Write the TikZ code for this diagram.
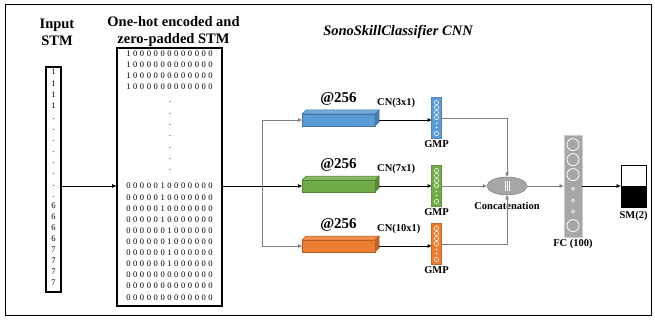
\documentclass[tikz,border=0pt]{standalone}
\usepackage{fontspec}
\setmainfont{Liberation Serif}
\usetikzlibrary{shapes.geometric, arrows.meta, positioning, calc}
\definecolor{cnblue}{HTML}{5B9BD5}
\definecolor{cngreen}{HTML}{70AD47}
\definecolor{cnorange}{HTML}{ED7D31}
\definecolor{poolgray}{HTML}{A6A6A6}
\definecolor{linegray}{HTML}{7F7F7F}
\newcommand\ohspace{\spaceskip=2.6pt\relax}

\begin{document}
\begin{tikzpicture}[x=1pt, y=-1pt,
  heading/.style={font=\fontsize{14.5}{17}\selectfont\bfseries, align=center},
  tag/.style={font=\fontsize{10.5}{12}\selectfont\bfseries, inner sep=1pt},
  digit/.style={font=\fontsize{8.5}{9}\selectfont, inner sep=0pt, text height=6pt, text depth=0pt},
  onehot/.style={digit, execute at begin node=\ohspace},
  column/.style={rectangle, draw, line width=1.6pt, inner sep=0pt},
  conv/.style={rectangle, draw=#1!75!black, fill=#1, line width=0.6pt, minimum width=73pt, minimum height=12pt, outer sep=0pt, inner sep=0pt},
  gmp/.style={rectangle, fill=#1, draw=#1!85!black, line width=0.4pt, minimum width=10pt, minimum height=41pt, outer sep=0pt, inner sep=0pt},
  arrow/.style={-{Triangle[length=4pt, width=3.5pt]}, line width=0.7pt},
  garrow/.style={arrow, draw=linegray}
]
  \useasboundingbox (0,0) rectangle (655,323);
  \draw[line width=0.8pt] (5,4) rectangle (651,315);

  \node[heading] (tin) at (57,32) {Input\\STM};
  \node[heading] (toh) at (173.5,32) {One-hot encoded and\\zero-padded STM};
  \node[heading, font=\fontsize{14.5}{17}\selectfont\bfseries\itshape] (title) at (398,32) {SonoSkillClassifier CNN};

  % input sequence
  \node[column, minimum width=15pt, minimum height=225pt] (incol) at (53.5,179.5) {};
  \foreach \v [count=\i from 0] in {1,1,1,1,.,.,.,.,.,.,.,.,6,6,6,6,7,7,7,7}
    \node[digit] (in\i) at (53.5, 72+11.1*\i) {\v};

  % one-hot matrix
  \node[column, minimum width=105pt, minimum height=258pt] (ohbox) at (169.5,177) {};
  \foreach \r [count=\i from 0] in {1 0 0 0 0 0 0 0 0 0 0 0 0, 1 0 0 0 0 0 0 0 0 0 0 0 0,
      1 0 0 0 0 0 0 0 0 0 0 0 0, 1 0 0 0 0 0 0 0 0 0 0 0 0}
    \node[onehot] (top\i) at (169.5, 54+11*\i) {\r};
  \foreach \i in {0,...,6}
    \node[digit] (dot\i) at (170, 100+11.3*\i) {.};
  \foreach \r [count=\i from 0] in {0 0 0 0 0 1 0 0 0 0 0 0 0, 0 0 0 0 0 1 0 0 0 0 0 0 0,
      0 0 0 0 0 1 0 0 0 0 0 0 0, 0 0 0 0 0 1 0 0 0 0 0 0 0,
      0 0 0 0 0 0 1 0 0 0 0 0 0, 0 0 0 0 0 0 1 0 0 0 0 0 0,
      0 0 0 0 0 0 1 0 0 0 0 0 0, 0 0 0 0 0 0 1 0 0 0 0 0 0,
      0 0 0 0 0 0 0 0 0 0 0 0 0, 0 0 0 0 0 0 0 0 0 0 0 0 0,
      0 0 0 0 0 0 0 0 0 0 0 0 0}
    \node[onehot] (bot\i) at (169.5, 186+11.1*\i) {\r};

  % convolution branches
  \node[conv=cnblue] (cnA) at (338.5,120) {};
  \node[conv=cngreen] (cnB) at (338.5,186) {};
  \node[conv=cnorange] (cnC) at (338.5,246) {};
  \foreach \n/\c in {A/cnblue, B/cngreen, C/cnorange} {
    \draw[draw=\c!75!black, fill=\c!85!white, line width=0.5pt] (cn\n.north west) -- ++(4,-4) -- ++(73,0) -- (cn\n.north east) -- cycle;
    \draw[draw=\c!75!black, fill=\c!80!black, line width=0.5pt] (cn\n.north east) -- ++(4,-4) -- ++(0,12) -- (cn\n.south east) -- cycle;
    \node[tag, font=\fontsize{15}{17}\selectfont\bfseries, above=7pt of cn\n] (at\n) {@256};
  }
  \node[tag, above right=5pt and 1pt of cnA.north east] (kA) {CN(3x1)};
  \node[tag, above right=5pt and 1pt of cnB.north east] (kB) {CN(7x1)};
  \node[tag, above right=5pt and 1pt of cnC.north east] (kC) {CN(10x1)};

  % global max pooling
  \node[gmp=cnblue] (gA) at (436.5,118) {};
  \node[gmp=cngreen] (gB) at (436.5,186) {};
  \node[gmp=cnorange] (gC) at (436.5,244) {};
  \foreach \n in {A,B,C} {
    \foreach \dy in {5,10,15,20}
      \draw[white, line width=0.5pt] ($(g\n.north)+(0,\dy)$) circle (2.1);
    \foreach \dy in {26,30}
      \fill[white] ($(g\n.north)+(0,\dy)$) circle (0.8);
    \draw[white, line width=0.5pt] ($(g\n.north)+(0,36)$) circle (2.1);
    \node[tag, below=1pt of g\n] (gl\n) {GMP};
  }

  % concatenation, dense and softmax
  \node[ellipse, fill=poolgray, draw=linegray, line width=0.5pt, minimum width=40pt, minimum height=18pt, inner sep=0pt] (cat) at (507,186) {};
  \foreach \dx in {-2,0,2}
    \draw[white, line width=0.5pt] ($(cat.center)+(\dx,-5)$) -- ++(0,10);
  \node[tag, below=6pt of cat] (catl) {Concatenation};

  \node[rectangle, fill=poolgray, draw=gray!40, line width=0.8pt, minimum width=18pt, minimum height=102pt, inner sep=0pt] (fc) at (573,186) {};
  \foreach \dy in {10,25,40,91}
    \draw[white, line width=0.8pt] ($(fc.north)+(0,\dy)$) circle (6);
  \foreach \dy in {54,66,77}
    \draw[white, line width=0.6pt] ($(fc.north)+(0,\dy)$) circle (1.6);
  \node[tag, below=1pt of fc] (fcl) {FC (100)};

  \node[rectangle, draw, line width=0.8pt, minimum width=25pt, minimum height=42pt, inner sep=0pt] (sm) at (633.5,186) {};
  \fill (sm.west) rectangle (sm.south east);
  \node[tag, below=3pt of sm] (sml) {SM(2)};

  \draw[arrow] (incol.east |- bot0) -- (ohbox.west |- bot0);
  \coordinate (br) at (262,186);
  \draw[arrow] (ohbox.east |- bot0) -- (cnB.west);
  \draw[garrow] (br) |- (cnA.west);
  \draw[garrow] (br) |- (cnC.west);
  \draw[arrow] ([xshift=4pt]cnA.east) -- (cnA.east -| gA.west);
  \draw[arrow] ([xshift=4pt]cnB.east) -- (gB.west);
  \draw[arrow] ([xshift=4pt]cnC.east) -- (cnC.east -| gC.west);
  \draw[garrow] (gA.east) -| (cat.north);
  \draw[garrow] (gB.east) -- (cat.west);
  \draw[garrow] (gC.east) -| (cat.south);
  \draw[garrow] (cat.east) -- (fc.west);
  \draw[arrow] (fc.east) -- (sm.west);
\end{tikzpicture}
\end{document}
